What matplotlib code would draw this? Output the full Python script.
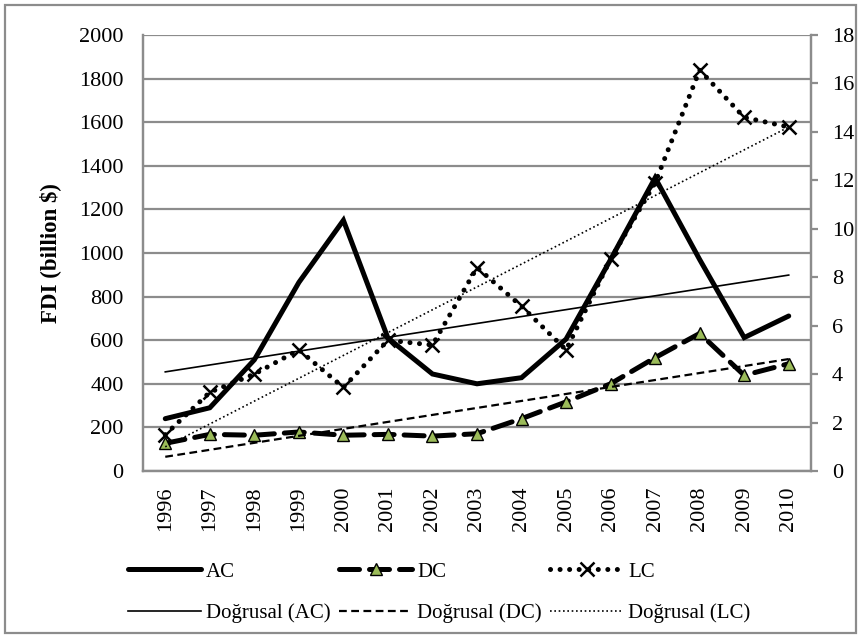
import numpy as np
import matplotlib
matplotlib.use("Agg")
import matplotlib.pyplot as plt
from matplotlib.patches import Rectangle

years = [str(y) for y in range(1996, 2011)]
ac = [240, 290, 510, 865, 1150, 610, 445, 400, 428, 605, 970, 1345, 970, 612, 711]
dc = [127, 168, 164, 179, 164, 168, 160, 171, 240, 317, 400, 520, 631, 439, 492]
lc = [1.5, 3.25, 4.0, 5.0, 3.45, 5.4, 5.2, 8.4, 6.8, 5.0, 8.75, 11.9, 16.55, 14.6, 14.2]
left_ticks = list(range(0, 2001, 200))
right_ticks = list(range(0, 19, 2))

plt.rcParams['font.family'] = ['Liberation Serif', 'DejaVu Serif']
GRAY = '#8c8c8c'

fig = plt.figure(figsize=(8.61, 6.38), dpi=100)
ax = fig.add_axes([143/861, 1-471/638, (811-143)/861, (471-35)/638])
ax2 = ax.twinx()

x = np.arange(len(years))

ax.set_xlim(-0.5, len(years)-0.5)
ax.set_ylim(0, 2000)
ax2.set_ylim(0, 18)
ax.set_yticks(left_ticks)
ax2.set_yticks(right_ticks)
ax.set_xticks(x)
ax.set_xticklabels(years, rotation=90)

ax.yaxis.grid(True, color=GRAY, lw=1.6)
ax.set_axisbelow(True)
for a in (ax, ax2):
    for s in a.spines.values():
        s.set_color(GRAY)
        s.set_linewidth(1.6)
    a.spines['top'].set_visible(False)
ax.tick_params(axis='y', length=0, pad=14, labelsize=16)
ax.tick_params(axis='x', length=0, pad=11, labelsize=16)
ax2.tick_params(axis='y', length=5, width=1.6, color=GRAY, pad=10, labelsize=16)

ax.set_ylabel('FDI (billion $)', fontsize=16.5, fontweight='bold', labelpad=13)

# trend lines (linear fits of the series)
tac = np.polyval(np.polyfit(x, ac, 1), x)
tdc = np.polyval(np.polyfit(x, dc, 1), x)
tlc = np.polyval(np.polyfit(x, lc, 1), x)

l_ac, = ax.plot(x, ac, color='black', lw=3.6, solid_capstyle='round', solid_joinstyle='miter', label='AC', zorder=3)
l_dc, = ax.plot(x, dc, color='black', lw=3.6, dashes=(4, 2), dash_capstyle='round',
                marker='^', markersize=9, mfc='#9BBB59', mec='black', mew=1.0, label='DC', zorder=3)
l_lc, = ax2.plot(x, lc, color='black', lw=3.6, dashes=(0.01, 1.9), dash_capstyle='round',
                 marker='x', markersize=10, mew=1.8, mec='black', label='LC', zorder=3)

t_ac, = ax.plot(x, tac, color='black', lw=1.2, label='Doğrusal (AC)', zorder=4)
t_dc, = ax.plot(x, tdc, color='black', lw=1.6, dashes=(3.5, 2), label='Doğrusal (DC)', zorder=4)
t_lc, = ax2.plot(x, tlc, color='black', lw=1.2, dashes=(1, 1.6), label='Doğrusal (LC)', zorder=4)

handles = [l_ac, t_ac, l_dc, t_dc, l_lc, t_lc]
fig.legend(handles, [h.get_label() for h in handles], ncol=3, loc='upper left',
           bbox_to_anchor=(128/861, 1-562/638), frameon=False, fontsize=15,
           handlelength=3.5, handletextpad=0.25, columnspacing=0.4,
           labelspacing=1.05, borderpad=0, borderaxespad=0, numpoints=1)

fig.patches.append(Rectangle((5/861, 5/638), 851/861, 628/638, transform=fig.transFigure,
                             fill=False, edgecolor=GRAY, lw=1.6))

fig.savefig('out.png', dpi=100)
